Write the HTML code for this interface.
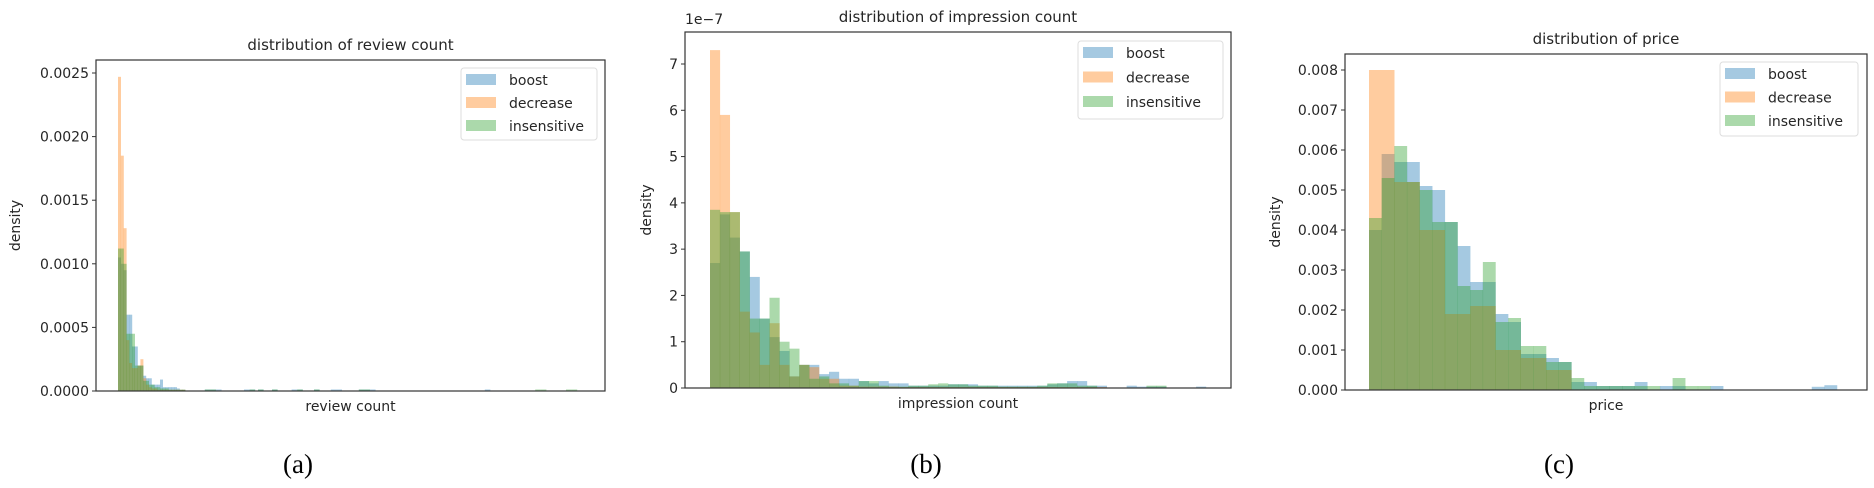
<!DOCTYPE html>
<html><head><meta charset="utf-8"><style>
html,body{margin:0;padding:0;background:#fff;}
svg{display:block;font-family:"DejaVu Sans","Liberation Sans",sans-serif;}
</style></head><body>
<svg id="fig" width="1874" height="488" viewBox="0 0 1874 488" xmlns="http://www.w3.org/2000/svg"></svg>
<script>
// ---------- Panel (a): review count ----------
const aBoost = [0.00105,0.0010,0.00095,0.0006,0.0006,0.00035,0.00035,0.0002,0.0002,0.00012,0.0001,0.0001,0.00005,0.00005,0.00005,0.00009,0.00003,0.00003,0.00003,0.00003,0.00003,0.00002,0.00001,0.00001];
const aDecrease = [0.00247,0.00185,0.00128,0.0004,0.00022,0.00018,0.00018,0.0002,0.00025,0.0001,0.00005,0.00003,0.00002,0.00002,0.00001,0.00001,0.00001,0.00001,0.00001,0.00001,0.00001,0.00001,0.00001,0.00001];
const aInsens = [0.00112,0.00112,0.001,0.00045,0.00045,0.00045,0.0002,0.0002,0.0002,0.00008,0.00008,0.00005,0.00005,0.00003,0.00003,0.00002,0.00002,0.00002,0.00001,0.00001,0.00001,0.00001,0.00001,0.00001];
const aTailBins = [31,33,35,45,47,50,55,62,64,70,76,78,86,88,90,131,133,149,151,160,162];
const aTailBoost = [0.00001,0.00001,0.00001,0.00001,0.00001,0.00001,0.00001,0.00001,0.00001,0.00001,0.00001,0.00001,0.000005,0.000005,0.000005,0.00001,0,0,0,0,0];
const aTailInsens = [0.00001,0.00001,0,0,0.00001,0.00001,0.00001,0,0.00001,0.00001,0,0,0.00001,0.00001,0,0,0,0.00001,0.00001,0.00001,0.00001];
const aTicks = [0,0.0005,0.001,0.0015,0.002,0.0025];
const aTickLabels = ["0.0000","0.0005","0.0010","0.0015","0.0020","0.0025"];
// ---------- Panel (b): impression count (x1e-7) ----------
const bBoost = [2.7,3.75,3.25,2.95,2.4,1.5,1.1,0.8,0.25,0.5,0.5,0.3,0.35,0.2,0.2,0.15,0.1,0.15,0.1,0.1,0.05,0.05,0.05,0.05,0.08,0.08,0.08,0.05,0.05,0.05,0.05,0.05,0.05,0.05,0.08,0.1,0.15,0.15,0.05,0.05,0.0,0.0,0.05,0.03,0.03,0.03,0.0,0.0,0.0,0.03];
const bDecrease = [7.3,5.9,3.8,1.65,1.2,0.5,1.4,0.5,0.25,0.5,0.45,0.2,0.2,0.05,0.05,0.03,0.03,0.03,0.03,0.02,0.02,0.02,0.02,0.02,0.02,0.02,0.02,0.02,0.02,0.02,0.02,0.02,0.02,0.02,0.02,0.02,0.02,0.02,0.02,0.02,0,0,0,0,0,0,0,0,0,0];
const bInsens = [3.85,3.8,3.8,2.95,1.5,1.5,1.95,1.0,0.85,0.5,0.2,0.25,0.1,0.1,0.05,0.15,0.15,0.05,0.03,0.03,0.05,0.05,0.08,0.1,0.08,0.08,0.05,0.05,0.05,0.03,0.03,0.03,0.03,0.05,0.1,0.1,0.1,0.05,0.05,0.0,0.0,0.0,0.0,0.0,0.05,0.05,0.0,0.0,0.0,0.0];
const bTicks = [0,1,2,3,4,5,6,7];
const bTickLabels = ["0","1","2","3","4","5","6","7"];
// ---------- Panel (c): price ----------
const cBoost = [0.0040,0.0059,0.0057,0.0057,0.0051,0.0050,0.0042,0.0036,0.0027,0.0027,0.0019,0.0017,0.0009,0.0009,0.0008,0.0007,0.0002,0.0002,0.0001,0.0001,0.0001,0.0002,0,0.0001,0.0001,0,0,0.0001,0,0,0,0,0,0,0,0.00008,0.00012];
const cDecrease = [0.0080,0.0052,0.0040,0.0019,0.0021,0.0010,0.0008,0.0005,0,0,0,0,0,0,0,0,0,0];
const cInsens = [0.0043,0.0053,0.0061,0.0052,0.0050,0.0042,0.0042,0.0026,0.0025,0.0032,0.0017,0.0018,0.0011,0.0011,0.0007,0.0007,0.0003,0.0001,0.0001,0.0001,0.0001,0.0001,0.0001,0,0.0003,0.0001,0.0001,0,0,0,0,0,0,0,0,0,0];
const cTicks = [0,0.001,0.002,0.003,0.004,0.005,0.006,0.007,0.008];
const cTickLabels = ["0.000","0.001","0.002","0.003","0.004","0.005","0.006","0.007","0.008"];
const seriesNames = ["boost","decrease","insensitive"];

const NS = "http://www.w3.org/2000/svg";
const svg = document.getElementById("fig");
const COLORS = ["#1f77b4","#ff7f0e","#2ca02c"];
function mk(tag, attrs, parent, text){
  const e = document.createElementNS(NS, tag);
  for (const k in attrs) e.setAttribute(k, attrs[k]);
  if (text !== undefined) e.textContent = text;
  (parent || svg).appendChild(e);
  return e;
}
function panel(p){
  const g = mk("g", {});
  
  
  const yScale = v => p.bottom - (v / p.ymax) * (p.bottom - p.top);
  const bars = mk("g", {}, g);
  
  
  p.series.forEach((s, si) => {
    s.values.forEach((v, i) => {
      if (v <= 0) return;
      const y = yScale(v);
      const r = mk("rect", {x: s.x0 + i * s.w, y: y, width: s.w + 0.2, height: p.bottom - y, fill: COLORS[si], "fill-opacity": 0.4}, bars);
      
      
    });
    if (s.tailBins) s.tailBins.forEach((b, i) => {
      const v = s.tailVals[i];
      if (v <= 0) return;
      const y = Math.min(yScale(v), p.bottom - 1.5);
      const r = mk("rect", {x: s.x0 + b * s.w, y: y, width: s.w * 2, height: p.bottom - y, fill: COLORS[si], "fill-opacity": 0.4}, bars);
      
      
    });
  });
  const frame = mk("rect", {x: p.left, y: p.top, width: p.right - p.left, height: p.bottom - p.top, fill: "none", stroke: "#333", "stroke-width": 1.2}, g);
  
  
  p.ticks.forEach((t, i) => {
    const y = yScale(t);
    const tk = mk("line", {x1: p.left - 4, x2: p.left, y1: y, y2: y, stroke: "#333", "stroke-width": 1}, g);
    
    
    const tl = mk("text", {x: p.left - 7, y: y + 5, "text-anchor": "end", "font-size": 14, fill: "#262626"}, g, p.tickLabels[i]);
    
    
  });
  const cx = (p.left + p.right) / 2;
  const title = mk("text", {x: cx, y: p.titleY, "text-anchor": "middle", "font-size": 15, fill: "#262626"}, g, p.title);
  
  
  const xl = mk("text", {x: cx, y: p.bottom + 20, "text-anchor": "middle", "font-size": 14, fill: "#262626"}, g, p.xlabel);
  
  
  const yl = mk("text", {x: 0, y: 0, "text-anchor": "middle", "font-size": 14, fill: "#262626", transform: "translate(" + (p.ylabX) + "," + ((p.top + p.bottom) / 2) + ") rotate(-90)"}, g, "density");
  
  
  if (p.offset) {
    const o = mk("text", {x: p.left, y: p.top - 8, "font-size": 14, fill: "#262626"}, g, p.offset);
    
    
  }
  const cap = mk("text", {x: p.capX, y: 473, "text-anchor": "middle", "font-size": 27, fill: "#000", "font-family": "Liberation Serif, serif"}, g, p.caption);
  
  
  const lg = mk("g", {}, g);
  
  
  const L = p.legend;
  mk("rect", {x: L.x, y: L.y, width: L.w, height: L.h, rx: 3, fill: "#fff", "fill-opacity": 0.8, stroke: "#ddd", "stroke-width": 1}, lg);
  seriesNames.forEach((n, i) => {
    const ey = L.y + 12 + i * L.step;
    const pt = mk("rect", {x: L.x + 5, y: ey - 6, width: 30, height: 11, fill: COLORS[i], "fill-opacity": 0.4}, lg);
    
    
    const lt = mk("text", {x: L.x + 48, y: ey + 5, "font-size": 14, fill: "#262626"}, lg, n);
    
    
  });
}
panel({key: "review-count", left: 96, right: 605, top: 60, bottom: 391, ymax: 0.0025 * 318 / 318 * (331 / 318), ticks: aTicks, tickLabels: aTickLabels,
  title: "distribution of review count", titleY: 50, xlabel: "review count", ylabX: 20, caption: "(a)", capX: 298,
  legend: {x: 461, y: 68, w: 136, h: 72, step: 23},
  series: [
    {values: aBoost, x0: 118, w: 2.8, tailBins: aTailBins, tailVals: aTailBoost},
    {values: aDecrease, x0: 118, w: 2.8},
    {values: aInsens, x0: 118, w: 2.8, tailBins: aTailBins, tailVals: aTailInsens}
  ]});
panel({key: "impression-count", left: 685, right: 1231, top: 32, bottom: 388, ymax: 7 * 356 / 324, ticks: bTicks, tickLabels: bTickLabels,
  title: "distribution of impression count", titleY: 22, xlabel: "impression count", ylabX: 651, caption: "(b)", capX: 926, offset: "1e\u22127",
  legend: {x: 1078, y: 41, w: 145, h: 78, step: 24.5},
  series: [
    {values: bBoost, x0: 710, w: 9.92},
    {values: bDecrease, x0: 710, w: 9.92},
    {values: bInsens, x0: 710, w: 9.92}
  ]});
panel({key: "price", left: 1345, right: 1867, top: 54, bottom: 390, ymax: 0.008 * 336 / 320, ticks: cTicks, tickLabels: cTickLabels,
  title: "distribution of price", titleY: 44, xlabel: "price", ylabX: 1280, caption: "(c)", capX: 1559,
  legend: {x: 1720, y: 62, w: 138, h: 74, step: 23.5},
  series: [
    {values: cBoost, x0: 1369, w: 12.65},
    {values: cDecrease, x0: 1369, w: 25.3},
    {values: cInsens, x0: 1369, w: 12.65}
  ]});
</script>
</body></html>
